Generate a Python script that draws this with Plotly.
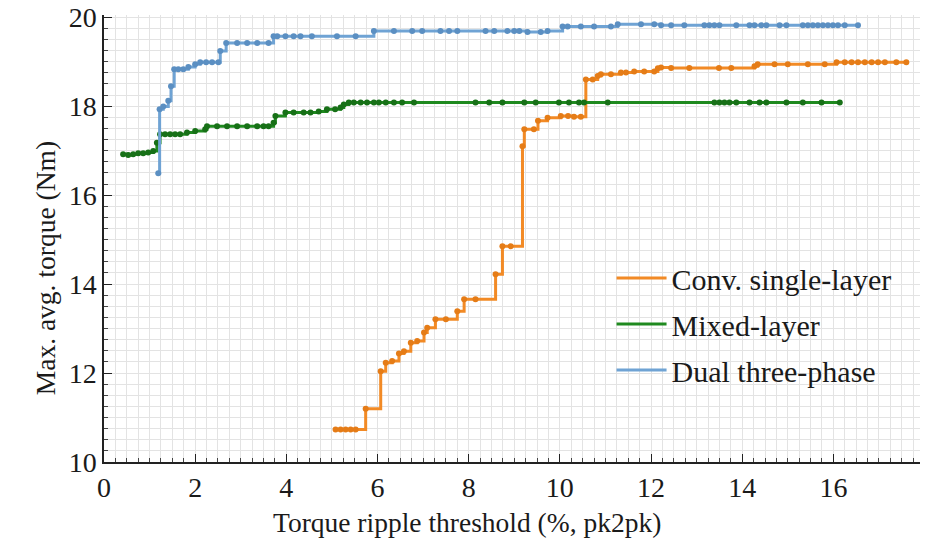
import plotly.graph_objects as go

# Torque ripple threshold (%, pk2pk) and best achievable average torque (Nm)
conv_x = [5.08, 5.19, 5.30, 5.41, 5.52, 5.74, 6.07, 6.18, 6.32, 6.47, 6.58, 6.73, 6.87, 7.02,
          7.09, 7.27, 7.50, 7.75, 7.90, 8.15, 8.59, 8.74, 8.92, 9.18, 9.22, 9.43, 9.52, 9.73,
          10.02, 10.18, 10.31, 10.46, 10.57, 10.72, 10.83, 10.90, 11.12, 11.34, 11.45, 11.63,
          11.85, 12.07, 12.15, 12.22, 12.44, 12.84, 13.49, 13.76, 14.27, 14.34, 14.71, 15.00,
          15.44, 15.81, 16.07, 16.25, 16.40, 16.54, 16.69, 16.84, 16.98, 17.13, 17.38, 17.60]
conv_y = [10.73, 10.73, 10.73, 10.73, 10.73, 11.20, 12.04, 12.23, 12.27, 12.44, 12.49, 12.68,
          12.72, 12.91, 13.02, 13.21, 13.21, 13.39, 13.66, 13.66, 14.22, 14.85, 14.85, 17.10,
          17.48, 17.48, 17.67, 17.74, 17.78, 17.78, 17.76, 17.76, 18.60, 18.60, 18.68, 18.72,
          18.72, 18.76, 18.76, 18.78, 18.78, 18.78, 18.85, 18.87, 18.86, 18.86, 18.86, 18.86,
          18.90, 18.94, 18.94, 18.94, 18.94, 18.94, 18.99, 18.99, 18.99, 18.99, 18.99, 18.99,
          18.99, 18.99, 18.99, 18.99]

mixed_x = [0.42, 0.53, 0.64, 0.75, 0.86, 0.97, 1.08, 1.16, 1.23, 1.34, 1.45, 1.56, 1.67, 1.82,
           2.00, 2.22, 2.26, 2.48, 2.70, 2.92, 3.14, 3.36, 3.50, 3.61, 3.72, 3.76, 3.98, 4.16,
           4.38, 4.53, 4.71, 4.89, 5.07, 5.19, 5.26, 5.37, 5.48, 5.63, 5.77, 5.92, 6.03, 6.18,
           6.36, 6.54, 6.80, 8.15, 8.45, 8.74, 9.22, 9.47, 9.98, 10.20, 10.42, 10.53, 11.05,
           13.39, 13.50, 13.61, 13.72, 13.87, 14.16, 14.38, 14.53, 14.97, 15.33, 15.74, 16.14]
mixed_y = [16.92, 16.90, 16.92, 16.94, 16.94, 16.96, 16.99, 17.18, 17.37, 17.37, 17.37, 17.37,
           17.37, 17.41, 17.44, 17.48, 17.55, 17.55, 17.55, 17.55, 17.55, 17.55, 17.55, 17.55,
           17.63, 17.78, 17.86, 17.86, 17.86, 17.86, 17.88, 17.93, 17.93, 17.97, 18.04, 18.08,
           18.08, 18.08, 18.08, 18.08, 18.08, 18.08, 18.08, 18.08, 18.08, 18.08, 18.08, 18.08,
           18.08, 18.08, 18.08, 18.08, 18.08, 18.08, 18.08, 18.08, 18.08, 18.08, 18.08, 18.08,
           18.08, 18.08, 18.08, 18.08, 18.08, 18.08, 18.08]

dual_x = [1.19, 1.22, 1.30, 1.41, 1.47, 1.54, 1.63, 1.74, 1.85, 2.00, 2.11, 2.24, 2.37, 2.51,
          2.55, 2.68, 2.92, 3.14, 3.36, 3.61, 3.72, 3.80, 3.98, 4.16, 4.31, 4.56, 5.11, 5.52,
          5.92, 6.36, 6.76, 6.98, 7.38, 7.57, 7.75, 8.37, 8.56, 8.85, 9.00, 9.11, 9.29, 9.58,
          9.73, 10.06, 10.17, 10.46, 10.75, 11.12, 11.27, 11.78, 12.07, 12.22, 12.44, 12.73,
          13.17, 13.28, 13.39, 13.50, 13.87, 14.16, 14.27, 14.42, 14.53, 14.82, 14.97, 15.33,
          15.44, 15.55, 15.66, 15.77, 15.88, 15.99, 16.10, 16.25, 16.54]
dual_y = [16.49, 17.93, 17.99, 18.12, 18.45, 18.83, 18.83, 18.83, 18.88, 18.94, 18.99, 18.99,
          18.99, 18.99, 19.24, 19.42, 19.42, 19.42, 19.42, 19.42, 19.57, 19.57, 19.57, 19.57,
          19.57, 19.57, 19.57, 19.57, 19.69, 19.69, 19.69, 19.69, 19.69, 19.69, 19.69, 19.69,
          19.69, 19.69, 19.69, 19.69, 19.67, 19.67, 19.69, 19.79, 19.79, 19.79, 19.79, 19.79,
          19.84, 19.84, 19.84, 19.82, 19.82, 19.82, 19.82, 19.82, 19.82, 19.82, 19.82, 19.82,
          19.82, 19.82, 19.82, 19.82, 19.82, 19.82, 19.82, 19.82, 19.82, 19.82, 19.82, 19.82,
          19.82, 19.82, 19.82]

x_ticks = [0, 2, 4, 6, 8, 10, 12, 14, 16]
y_ticks = [10, 12, 14, 16, 18, 20]

series = [
    ("Conv. single-layer", conv_x, conv_y, "#f28a25", "#e57c17"),
    ("Mixed-layer", mixed_x, mixed_y, "#1f8a1f", "#177017"),
    ("Dual three-phase", dual_x, dual_y, "#6fa3d4", "#5b8fc2"),
]

FONT = "Liberation Serif, Times New Roman, serif"
TXT = "#1a1a1a"

fig = go.Figure()
for name, xs, ys, line_col, mark_col in series:
    # stepped line carrying the legend entry
    fig.add_trace(go.Scatter(
        x=xs, y=ys, mode="lines", name=name, legendgroup=name,
        line=dict(color=line_col, width=3, shape="hv"),
    ))
    # sample points on the staircase
    fig.add_trace(go.Scatter(
        x=xs, y=ys, mode="markers", showlegend=False, legendgroup=name,
        marker=dict(color=mark_col, size=6),
    ))

grid_col = "#e3e3e3"
axis_common = dict(
    showline=True, linecolor="#222222", linewidth=1.5, mirror=False,
    ticks="inside", ticklen=8, tickwidth=1.2, tickcolor="#222222",
    showgrid=True, gridcolor=grid_col, gridwidth=1, zeroline=False,
    automargin=False,
    tickfont=dict(family=FONT, size=28, color=TXT),
    minor=dict(dtick=0.25, ticks="inside", ticklen=4, tickcolor="#444444",
               showgrid=True, gridcolor=grid_col, gridwidth=1),
)

fig.update_xaxes(
    range=[0, 17.9], tickmode="array", tickvals=x_ticks,
    ticktext=[str(v) for v in x_ticks],
    **axis_common,
)
fig.update_yaxes(
    range=[10, 20.05], tickmode="array", tickvals=y_ticks,
    ticktext=[str(v) for v in y_ticks],
    **axis_common,
)

# axis titles
fig.add_annotation(
    text="Torque ripple threshold (%, pk2pk)", xref="paper", yref="paper",
    x=0.445, y=-0.135, xanchor="center", yanchor="middle", showarrow=False,
    font=dict(family=FONT, size=27.5, color=TXT),
)
fig.add_annotation(
    text="Max. avg. torque (Nm)", xref="paper", yref="paper",
    x=-0.072, y=0.434, xanchor="center", yanchor="middle", showarrow=False,
    textangle=-90, font=dict(family=FONT, size=27.5, color=TXT),
)

fig.update_layout(
    width=936, height=546,
    margin=dict(l=104, r=16, t=15, b=84),
    paper_bgcolor="white", plot_bgcolor="white",
    font=dict(family=FONT, size=26, color=TXT),
    legend=dict(
        x=0.622, y=0.47, xanchor="left", yanchor="top",
        bgcolor="rgba(0,0,0,0)", borderwidth=0,
        font=dict(family=FONT, size=30, color=TXT),
        itemwidth=50, tracegroupgap=4, traceorder="grouped",
    ),
    showlegend=True,
)

fig.write_html("out.html")
